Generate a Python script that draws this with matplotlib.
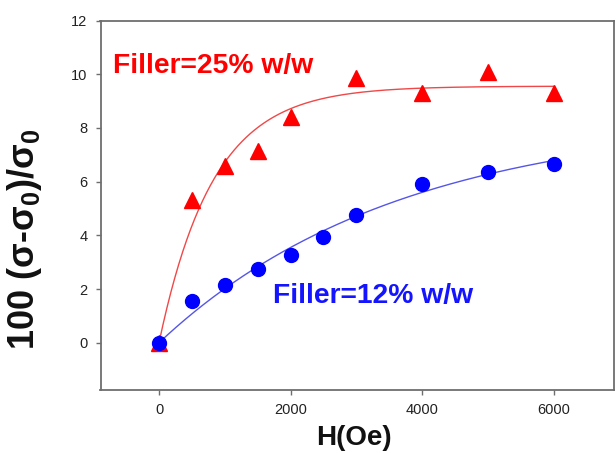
import numpy as np
import matplotlib
matplotlib.use("Agg")
import matplotlib.pyplot as plt

plt.rcParams['font.family'] = ['Liberation Sans', 'DejaVu Sans']
plt.rcParams['mathtext.default'] = 'regular'

# Data
h_25 = [0, 500, 1000, 1500, 2000, 3000, 4000, 5000, 6000]
s_25 = [0.0, 5.3, 6.6, 7.15, 8.4, 9.85, 9.3, 10.1, 9.3]
h_12 = [0, 500, 1000, 1500, 2000, 2500, 3000, 4000, 5000, 6000]
s_12 = [0.0, 1.55, 2.15, 2.75, 3.25, 3.95, 4.75, 5.9, 6.35, 6.65]
x_ticks = [0, 2000, 4000, 6000]
y_ticks = [0, 2, 4, 6, 8, 10, 12]
label_25 = "Filler=25% w/w"
label_12 = "Filler=12% w/w"


def fit_exp_rise(x, y):
    """Least-squares fit of y = A*(1-exp(-k x)) via grid search over k."""
    x = np.asarray(x, float)
    y = np.asarray(y, float)
    best = None
    for k in np.linspace(1e-5, 5e-3, 5000):
        g = 1 - np.exp(-k * x)
        A = (g @ y) / (g @ g)
        err = np.sum((y - A * g) ** 2)
        if best is None or err < best[0]:
            best = (err, A, k)
    return best[1], best[2]


W, H = 616, 453
fig = plt.figure(figsize=(W / 100, H / 100), dpi=100)
ax = fig.add_axes([100.5 / W, (H - 390) / H, (613.5 - 100.5) / W, (390 - 20.5) / H])

xs = np.linspace(0, 6000, 400)
A1, k1 = fit_exp_rise(h_25, s_25)
A2, k2 = fit_exp_rise(h_12, s_12)
ax.plot(xs, A1 * (1 - np.exp(-k1 * xs)), color='#f04848', lw=1.0, zorder=2)
ax.plot(xs, A2 * (1 - np.exp(-k2 * xs)), color='#5555e8', lw=1.0, zorder=2)

ax.plot(h_25, s_25, linestyle='none', marker='^', ms=11, color='#ff0000', mec='#ff0000', zorder=3)
ax.plot(h_12, s_12, linestyle='none', marker='o', ms=10, color='#0000ff', mec='#0000ff', zorder=4)

ax.set_xlim(-890, 6912)
ax.set_ylim(-1.76, 12)
ax.set_xticks(x_ticks)
ax.set_yticks(y_ticks)

spine_color = '#6e6e6e'
for side in ['left', 'bottom', 'top', 'right']:
    ax.spines[side].set_color(spine_color)
    ax.spines[side].set_linewidth(1.3)
ax.tick_params(direction='out', length=3.5, width=1.0, color=spine_color,
               labelsize=10.5, labelcolor='#222222', pad=6)

ax.text(0.024, 0.877, label_25, transform=ax.transAxes, color='#ff0000',
        fontsize=20.3, fontweight='bold', ha='left', va='center')
ax.text(0.336, 0.254, label_12, transform=ax.transAxes, color='#1414ff',
        fontsize=20.3, fontweight='bold', ha='left', va='center')

fig.text(354 / W, 1 - 438 / H, "H(Oe)", fontsize=20, fontweight='bold',
         ha='center', va='center', color='#111111')
fig.text(25 / W, 1 - 239 / H, "100 (σ-σ$_0$)/σ$_0$", fontsize=26, fontweight='bold',
         rotation=90, ha='center', va='center', color='#111111')

fig.savefig("out.png", dpi=100)
